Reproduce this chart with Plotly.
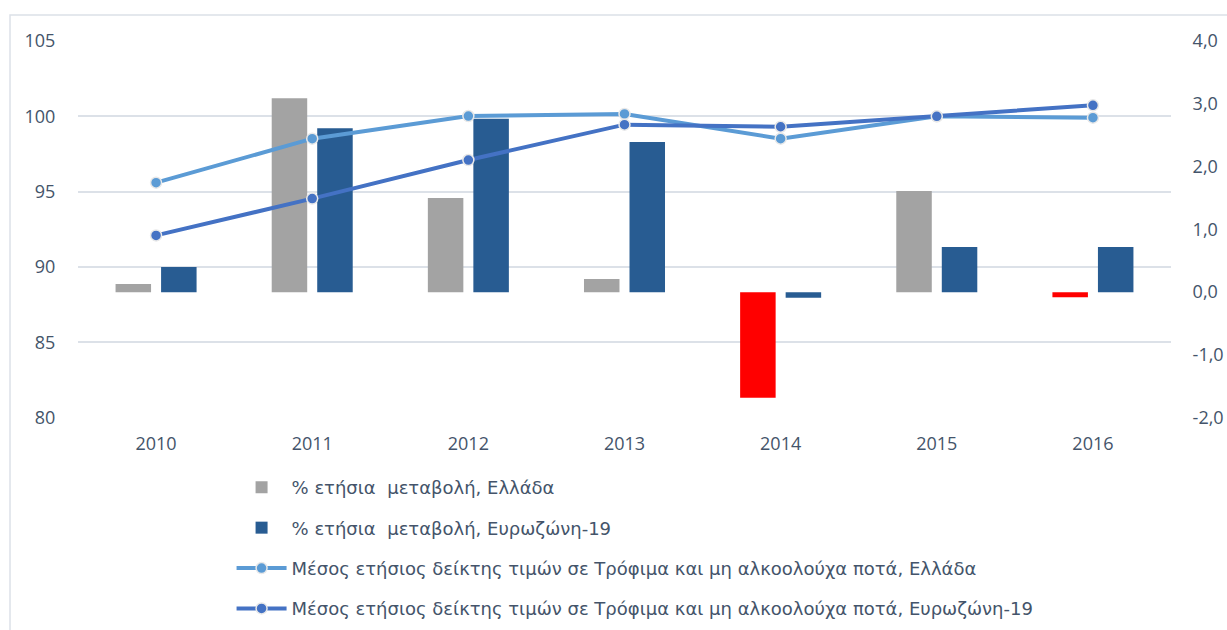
import plotly.graph_objects as go

years = ["2010", "2011", "2012", "2013", "2014", "2015", "2016"]
pct_greece = [0.13, 3.09, 1.50, 0.21, -1.68, 1.61, -0.08]
pct_euro = [0.40, 2.61, 2.76, 2.39, -0.09, 0.72, 0.72]
idx_greece = [95.6, 98.52, 100.02, 100.16, 98.52, 100.0, 99.91]
idx_euro = [92.1, 94.54, 97.1, 99.45, 99.31, 100.0, 100.73]

left_ticks = [80, 85, 90, 95, 100, 105]
right_ticks = [-2, -1, 0, 1, 2, 3, 4]
right_labels = [f"{v:.1f}".replace(".", ",") for v in right_ticks]

names = [
    "% ετήσια  μεταβολή, Ελλάδα",
    "% ετήσια  μεταβολή, Ευρωζώνη-19",
    "Μέσος ετήσιος δείκτης τιμών σε Τρόφιμα και μη αλκοολούχα ποτά, Ελλάδα",
    "Μέσος ετήσιος δείκτης τιμών σε Τρόφιμα και μη αλκοολούχα ποτά, Ευρωζώνη-19",
]

GRAY = "#A3A3A3"
BLUE = "#285C92"
RED = "#FF0000"
LIGHT = "#5B9BD5"
DARK = "#4472C4"
TXT = "#44546A"
GRID = "#DCE1E8"
FONT = "Open Sans"
DOMAIN = [0.3604, 1.0]

fig = go.Figure()
fig.add_trace(go.Bar(
    x=years, y=pct_greece, name=names[0], legendgroup="g1",
    marker=dict(color=[RED if v < 0 else GRAY for v in pct_greece], line_width=0),
    yaxis="y",
))
fig.add_trace(go.Bar(
    x=years, y=pct_euro, name=names[1], legendgroup="g2",
    marker=dict(color=BLUE, line_width=0), yaxis="y",
))
fig.add_trace(go.Scatter(
    x=years, y=idx_greece, name=names[2], legendgroup="g3", mode="lines+markers",
    line=dict(color=LIGHT, width=4),
    marker=dict(size=11, color=LIGHT, line=dict(color="#E8E8E8", width=1.5)),
    yaxis="y2",
))
fig.add_trace(go.Scatter(
    x=years, y=idx_euro, name=names[3], legendgroup="g4", mode="lines+markers",
    line=dict(color=DARK, width=4),
    marker=dict(size=11, color=DARK, line=dict(color="#E8E8E8", width=1.5)),
    yaxis="y2",
))

fig.update_layout(
    width=1227, height=630,
    margin=dict(l=78, r=56, t=41, b=0),
    paper_bgcolor="white", plot_bgcolor="white",
    font=dict(family=FONT, color=TXT, size=16),
    barmode="group", bargap=0.417, bargroupgap=0.22,
    showlegend=True,
    legend=dict(
        orientation="v", x=0.1405, xanchor="left", y=0.005, yanchor="bottom",
        font=dict(family="DejaVu Sans", size=18, color=TXT),
        tracegroupgap=14, itemwidth=50, bgcolor="rgba(0,0,0,0)",
    ),
    xaxis=dict(
        type="category", showgrid=False, zeroline=False, showline=False,
        tickfont=dict(family=FONT, size=18, color=TXT), automargin=False,
        ticks="outside", ticklen=10, tickcolor="rgba(0,0,0,0)",
    ),
    yaxis=dict(
        side="right", range=[right_ticks[0], right_ticks[-1]], domain=DOMAIN,
        tickvals=right_ticks, ticktext=right_labels, automargin=False,
        showgrid=False, zeroline=False, showline=False,
        tickfont=dict(family=FONT, size=18, color=TXT),
        ticks="outside", ticklen=17, tickcolor="rgba(0,0,0,0)",
    ),
    yaxis2=dict(
        overlaying="y", side="left", range=[left_ticks[0], left_ticks[-1]], domain=DOMAIN,
        tickvals=left_ticks, showgrid=True, gridcolor=GRID, gridwidth=1.5,
        zeroline=False, showline=False, automargin=False,
        tickfont=dict(family=FONT, size=18, color=TXT),
        ticks="outside", ticklen=18, tickcolor="rgba(0,0,0,0)",
    ),
    shapes=[dict(
        type="rect", xref="paper", yref="paper",
        x0=-0.0622, x1=1.07, y0=-0.05, y1=1.0441,
        line=dict(color=GRID, width=1.5), fillcolor="rgba(0,0,0,0)", layer="below",
    )],
)

fig.write_html(
    "out.html",
    config={"displayModeBar": False},
    post_script="document.body.style.margin='0';document.body.style.overflow='hidden';",
)
